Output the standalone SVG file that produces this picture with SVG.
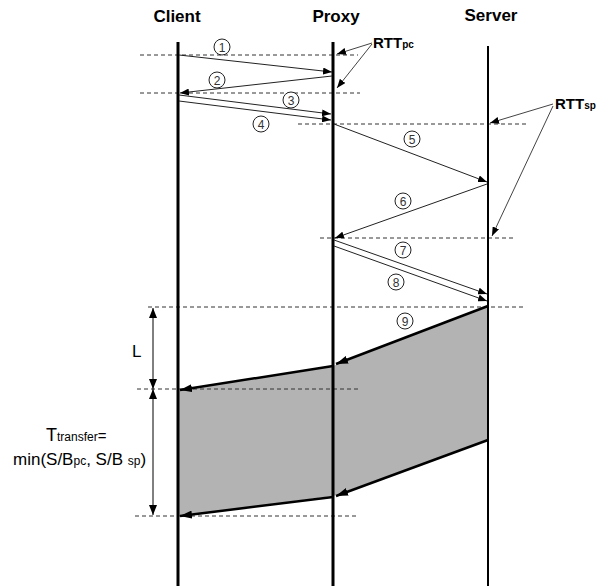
<svg xmlns="http://www.w3.org/2000/svg" width="610" height="586" viewBox="0 0 610 586">
<defs>
<style>
.hdr{font-family:"Liberation Sans",Arial,sans-serif;font-weight:bold;font-size:17px;fill:#000;text-anchor:middle}
.life{stroke:#000;stroke-width:3;fill:none}
.dash{stroke:#333;stroke-width:1;stroke-dasharray:4 3;fill:none}
.msg{stroke:#222;stroke-width:1;fill:none;marker-end:url(#ah)}
.thick{stroke:#000;stroke-width:2.5;fill:none;marker-end:url(#ahb)}
.num circle{fill:#fff;stroke:#222;stroke-width:1}
.num text{font-family:"Liberation Sans",Arial,sans-serif;font-size:12px;fill:#333;text-anchor:middle}
.rtt{font-family:"Liberation Sans",Arial,sans-serif;font-weight:bold;font-size:15px;fill:#000}
.lbl{font-family:"Liberation Sans",Arial,sans-serif;fill:#000}
.ptr{stroke:#444;stroke-width:1;fill:none;marker-end:url(#ah)}
.dim{stroke:#000;stroke-width:1;fill:none;marker-start:url(#ahd);marker-end:url(#ahd)}
</style>
<marker id="ah" markerUnits="userSpaceOnUse" markerWidth="9" markerHeight="7" refX="9" refY="3.5" orient="auto"><path d="M0,0 L9,3.5 L0,7 z" fill="#000"/></marker>
<marker id="ahb" markerUnits="userSpaceOnUse" markerWidth="12" markerHeight="8" refX="12" refY="4" orient="auto"><path d="M0,0 L12,4 L0,8 z" fill="#000"/></marker>
<marker id="ahd" markerUnits="userSpaceOnUse" markerWidth="10" markerHeight="8" refX="10" refY="4" orient="auto-start-reverse"><path d="M0,0 L10,4 L0,8 z" fill="#000"/></marker>
</defs>
<rect width="610" height="586" fill="#fff"/>

<polygon points="178,390 333,366 488,306 488,440 333,496 178,516" fill="#b3b3b3"/>

<g id="dashes">
<line class="dash" x1="140" y1="55" x2="358" y2="55"/>
<line class="dash" x1="140" y1="93" x2="360" y2="93"/>
<line class="dash" x1="298" y1="124" x2="526" y2="124"/>
<line class="dash" x1="320" y1="238" x2="514" y2="238"/>
<line class="dash" x1="148" y1="307" x2="526" y2="307"/>
<line class="dash" x1="137" y1="389" x2="358" y2="389"/>
<line class="dash" x1="135" y1="516" x2="356" y2="516"/>
</g>

<g id="client">
<line class="life" x1="178" y1="42" x2="178" y2="586"/>
<text class="hdr" x="177" y="22">Client</text>
</g>
<g id="proxy">
<line class="life" x1="333" y1="42" x2="333" y2="586"/>
<text class="hdr" x="336" y="22">Proxy</text>
</g>
<g id="server">
<line class="life" x1="488" y1="46" x2="488" y2="586" style="stroke-width:2"/>
<text class="hdr" x="491" y="21">Server</text>
</g>

<g id="connectors">
<line class="msg" x1="179" y1="55" x2="332" y2="72"/>
<line class="msg" x1="332" y1="76" x2="180" y2="93"/>
<line class="msg" x1="179" y1="95" x2="331" y2="114"/>
<line class="msg" x1="179" y1="101" x2="331" y2="120"/>
<line class="msg" x1="334" y1="124" x2="487" y2="182"/>
<line class="msg" x1="487" y1="184" x2="335" y2="238"/>
<line class="msg" x1="334" y1="240" x2="487" y2="294"/>
<line class="msg" x1="334" y1="246" x2="487" y2="301"/>
<line class="thick" x1="488" y1="306" x2="336" y2="364"/>
<line class="thick" x1="333" y1="366" x2="180" y2="390"/>
<line class="thick" x1="488" y1="440" x2="336" y2="496"/>
<line class="thick" x1="333" y1="497" x2="180" y2="516"/>
</g>

<g id="numbers" class="num">
<circle cx="222" cy="47" r="8"/><text x="222" y="51.5">1</text>
<circle cx="217" cy="80" r="8"/><text x="217" y="84.5">2</text>
<circle cx="291" cy="100" r="8"/><text x="291" y="104.5">3</text>
<circle cx="261" cy="124" r="8"/><text x="261" y="128.5">4</text>
<circle cx="412" cy="139" r="8"/><text x="412" y="143.5">5</text>
<circle cx="403" cy="201" r="8"/><text x="403" y="205.5">6</text>
<circle cx="403" cy="250" r="8"/><text x="403" y="254.5">7</text>
<circle cx="396" cy="282" r="8"/><text x="396" y="286.5">8</text>
<circle cx="405" cy="321" r="8"/><text x="405" y="325.5">9</text>
</g>

<g id="rtt-pc">
<text class="rtt" x="373" y="48">RTT<tspan font-size="10">pc</tspan></text>
<line class="ptr" x1="372" y1="43" x2="337" y2="54"/>
<line class="ptr" x1="372" y1="44" x2="337" y2="88"/>
</g>
<g id="rtt-sp">
<text class="rtt" x="555" y="109">RTT<tspan font-size="10">sp</tspan></text>
<line class="ptr" x1="553" y1="104" x2="490" y2="123"/>
<line class="ptr" x1="553" y1="106" x2="492" y2="236"/>
</g>

<g id="dimensions">
<line class="dim" x1="153" y1="308" x2="153" y2="389"/>
<line class="dim" x1="153" y1="389" x2="153" y2="515"/>
<text class="lbl" x="132" y="357" font-size="17">L</text>
<text class="lbl" x="46" y="441" font-size="18">T<tspan font-size="12">transfer</tspan><tspan font-size="15">=</tspan></text>
<text class="lbl" x="13" y="465" font-size="17">min(S/B<tspan font-size="12">pc</tspan>, S/B <tspan font-size="12">sp</tspan>)</text>
</g>
</svg>
